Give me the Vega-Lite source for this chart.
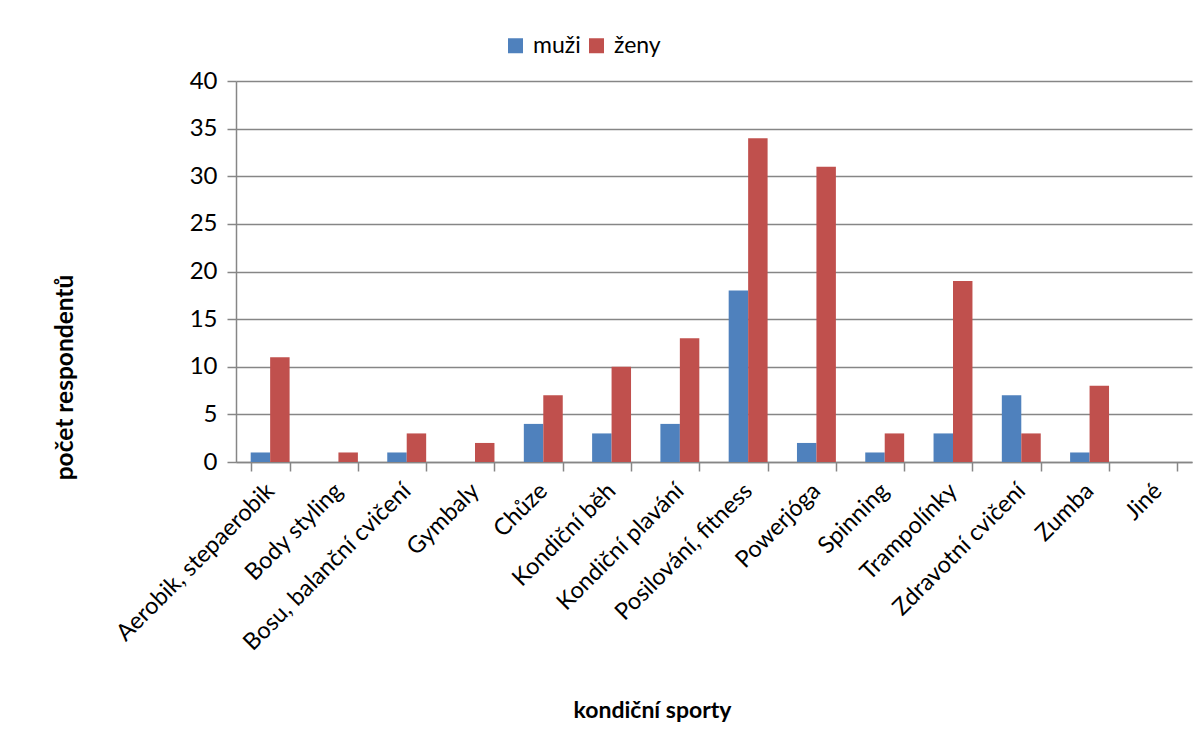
{
  "$schema": "https://vega.github.io/schema/vega-lite/v6.json",
  "width": 956,
  "height": 381,
  "autosize": {"type": "none"},
  "padding": {"left": 236, "top": 81, "right": 11, "bottom": 293},
  "background": "white",
  "data": {
    "values": [
      {"sport": "Aerobik, stepaerobik", "pohlavi": "muži", "pocet": 1},
      {"sport": "Aerobik, stepaerobik", "pohlavi": "ženy", "pocet": 11},
      {"sport": "Body styling", "pohlavi": "muži", "pocet": 0},
      {"sport": "Body styling", "pohlavi": "ženy", "pocet": 1},
      {"sport": "Bosu, balanční cvičení", "pohlavi": "muži", "pocet": 1},
      {"sport": "Bosu, balanční cvičení", "pohlavi": "ženy", "pocet": 3},
      {"sport": "Gymbaly", "pohlavi": "muži", "pocet": 0},
      {"sport": "Gymbaly", "pohlavi": "ženy", "pocet": 2},
      {"sport": "Chůze", "pohlavi": "muži", "pocet": 4},
      {"sport": "Chůze", "pohlavi": "ženy", "pocet": 7},
      {"sport": "Kondiční běh", "pohlavi": "muži", "pocet": 3},
      {"sport": "Kondiční běh", "pohlavi": "ženy", "pocet": 10},
      {"sport": "Kondiční plavání", "pohlavi": "muži", "pocet": 4},
      {"sport": "Kondiční plavání", "pohlavi": "ženy", "pocet": 13},
      {"sport": "Posilování, fitness", "pohlavi": "muži", "pocet": 18},
      {"sport": "Posilování, fitness", "pohlavi": "ženy", "pocet": 34},
      {"sport": "Powerjóga", "pohlavi": "muži", "pocet": 2},
      {"sport": "Powerjóga", "pohlavi": "ženy", "pocet": 31},
      {"sport": "Spinning", "pohlavi": "muži", "pocet": 1},
      {"sport": "Spinning", "pohlavi": "ženy", "pocet": 3},
      {"sport": "Trampolínky", "pohlavi": "muži", "pocet": 3},
      {"sport": "Trampolínky", "pohlavi": "ženy", "pocet": 19},
      {"sport": "Zdravotní cvičení", "pohlavi": "muži", "pocet": 7},
      {"sport": "Zdravotní cvičení", "pohlavi": "ženy", "pocet": 3},
      {"sport": "Zumba", "pohlavi": "muži", "pocet": 1},
      {"sport": "Zumba", "pohlavi": "ženy", "pocet": 8},
      {"sport": "Jiné", "pohlavi": "muži", "pocet": 0},
      {"sport": "Jiné", "pohlavi": "ženy", "pocet": 0}
    ]
  },
  "mark": {"type": "bar"},
  "encoding": {
    "x": {
      "field": "sport",
      "type": "nominal",
      "sort": null,
      "scale": {"paddingInner": 0.43, "paddingOuter": 0.215},
      "axis": {
        "title": "kondiční sporty",
        "titleFont": "Lato",
        "titleFontSize": 23,
        "titleFontWeight": "bold",
        "titleColor": "black",
        "titleX": 416,
        "titleY": 248,
        "titleAnchor": null,
        "titleAlign": "center",
        "titleBaseline": "middle",
        "labelAngle": -45,
        "labelAlign": "right",
        "labelBaseline": "middle",
        "labelFont": "Lato",
        "labelFontSize": 23.5,
        "labelColor": "black",
        "labelPadding": 16,
        "labelDx": -4,
        "labelLimit": 400,
        "tickBand": "extent",
        "tickSize": 9,
        "tickColor": "#868686",
        "tickWidth": 1.5,
        "domainColor": "#868686",
        "domainWidth": 1.5,
        "grid": false
      }
    },
    "xOffset": {"field": "pohlavi", "type": "nominal", "sort": ["muži", "ženy"]},
    "y": {
      "field": "pocet",
      "type": "quantitative",
      "scale": {"domain": [0, 40], "nice": false},
      "axis": {
        "title": "počet respondentů",
        "titleFont": "Lato",
        "titleFontSize": 24.5,
        "titleFontWeight": "bold",
        "titleColor": "black",
        "titleX": -171,
        "titleY": 296,
        "titleAngle": -90,
        "titleAlign": "center",
        "titleBaseline": "middle",
        "values": [0, 5, 10, 15, 20, 25, 30, 35, 40],
        "labelFont": "Lato",
        "labelFontSize": 24,
        "labelColor": "black",
        "labelPadding": 10,
        "tickSize": 9,
        "tickColor": "#868686",
        "tickWidth": 1.5,
        "domainColor": "#868686",
        "domainWidth": 1.5,
        "grid": true,
        "gridColor": "#868686",
        "gridWidth": 1.5
      }
    },
    "color": {
      "field": "pohlavi",
      "type": "nominal",
      "sort": ["muži", "ženy"],
      "scale": {"domain": ["muži", "ženy"], "range": ["#4F81BD", "#C0504D"]},
      "legend": {
        "title": null,
        "orient": "none",
        "direction": "horizontal",
        "legendX": 268,
        "legendY": -47,
        "symbolType": "square",
        "symbolSize": 225,
        "symbolStrokeWidth": 0,
        "symbolOpacity": 1,
        "labelFont": "Lato",
        "labelFontSize": 23,
        "labelColor": "black",
        "labelOffset": 6,
        "columnPadding": 4
      }
    }
  },
  "config": {
    "view": {"stroke": null},
    "bar": {"strokeWidth": 0}
  }
}
